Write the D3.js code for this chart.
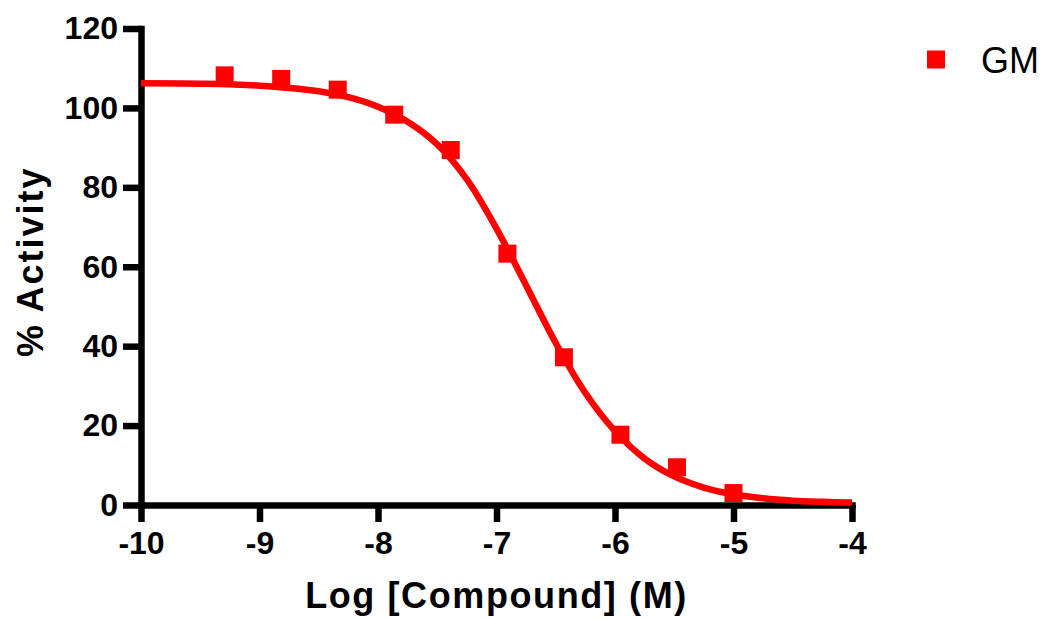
<!DOCTYPE html>
<html>
<head>
<meta charset="utf-8">
<script src="https://cdn.jsdelivr.net/npm/d3@7"></script>
<style>
  body { margin: 0; background: #fff; }
  svg { display: block; font-family: "Liberation Sans", Arial, sans-serif; }
</style>
</head>
<body>
<svg id="chart" width="1042" height="618"></svg>
<script>
// data points (log M, % activity)
const logConc = [-9.294, -8.817, -8.34, -7.863, -7.386, -6.908, -6.431, -5.954, -5.477, -5.0];
const activity = [108.2, 107.3, 104.6, 98.3, 89.4, 63.3, 37.2, 17.7, 9.5, 3.0];

// fitted curve
const curveX = [-10, -9.5, -9, -8.5, -8.25, -8, -7.75, -7.5, -7.25, -7, -6.75, -6.5, -6.25, -6, -5.75, -5.5, -5.25, -5, -4.75, -4.5, -4.25, -4];
const curveY = [106.2, 106.1, 105.6, 104.2, 102.7, 100.3, 96.5, 90.8, 82.0, 69.6, 55.3, 40.8, 28.2, 18.6, 11.7, 7.2, 4.4, 2.7, 1.7, 1.1, 0.8, 0.6];

const xTicks = [-10, -9, -8, -7, -6, -5, -4];
const yTicks = [0, 20, 40, 60, 80, 100, 120];
const seriesName = "GM";

const red = "#ff0000";
const svg = d3.select("#chart");

const x = d3.scaleLinear().domain([-10, -4]).range([141, 852]);
const y = d3.scaleLinear().domain([0, 120]).range([505, 28.5]);

// Axes
function styleAxis(g) {
  g.selectAll("path, line")
    .attr("stroke", "#000")
    .attr("stroke-width", 6.5)
    .attr("stroke-linecap", "square");
  g.selectAll(".tick line").attr("stroke-linecap", "butt");
  g.selectAll("text")
    .attr("fill", "#000")
    .style("font-size", "32px")
    .style("font-weight", "bold");
}

svg.append("g")
  .attr("transform", `translate(0,${y(0)})`)
  .call(d3.axisBottom(x).tickValues(xTicks).tickSize(17).tickSizeOuter(0).tickPadding(9).tickFormat(d => String(d)))
  .call(styleAxis);

svg.append("g")
  .attr("transform", `translate(${x(-10)},0)`)
  .call(d3.axisLeft(y).tickValues(yTicks).tickSize(18).tickSizeOuter(0).tickPadding(5))
  .call(styleAxis);

// Axis titles
svg.append("text")
  .attr("x", (x(-10) + x(-4)) / 2)
  .attr("y", 608)
  .attr("text-anchor", "middle")
  .style("font-size", "36px")
  .style("font-weight", "bold")
  .style("letter-spacing", "1.6px")
  .text("Log [Compound] (M)");

svg.append("text")
  .attr("transform", `translate(43,${(y(0) + y(120)) / 2 - 5}) rotate(-90)`)
  .attr("text-anchor", "middle")
  .style("font-size", "36px")
  .style("font-weight", "bold")
  .style("letter-spacing", "2px")
  .text("% Activity");

// Curve
const curveData = curveX.map((v, i) => ({ x: v, y: curveY[i] }));
svg.append("path")
  .datum(curveData)
  .attr("fill", "none")
  .attr("stroke", red)
  .attr("stroke-width", 6.5)
  .attr("d", d3.line().x(d => x(d.x)).y(d => y(d.y)).curve(d3.curveCatmullRom.alpha(0.5)));

// Points
const points = logConc.map((v, i) => ({ x: v, y: activity[i] }));
const sq = 18;
svg.append("g")
  .selectAll("rect")
  .data(points)
  .join("rect")
  .attr("x", d => x(d.x) - sq / 2)
  .attr("y", d => y(d.y) - sq / 2)
  .attr("width", sq)
  .attr("height", sq)
  .attr("fill", red);

// Legend
const legend = svg.append("g").attr("transform", "translate(927,50.5)");
legend.append("rect")
  .attr("width", sq)
  .attr("height", sq)
  .attr("fill", red);
legend.append("text")
  .attr("x", 54)
  .attr("y", 22)
  .style("font-size", "36px")
  .text(seriesName);
</script>
</body>
</html>
